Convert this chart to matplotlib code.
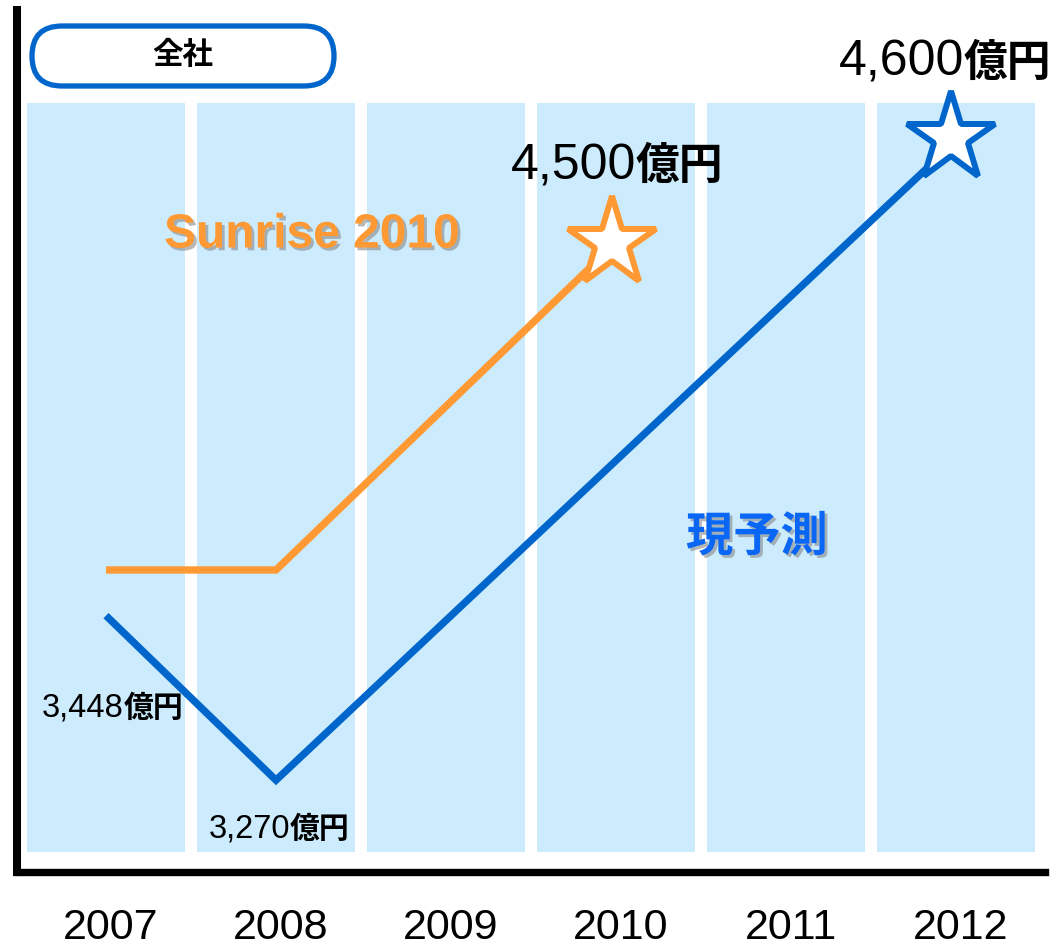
import matplotlib
matplotlib.use("Agg")
import matplotlib.pyplot as plt
import matplotlib.patheffects as pe
from matplotlib.patches import FancyBboxPatch
from matplotlib.transforms import IdentityTransform

# data (schematic index levels, 0-100 axis)
years = ["2007", "2008", "2009", "2010", "2011", "2012"]
col_bottom = 2.3
col_top = 89.2

forecast_x = [0, 1, 5]            # 現予測
forecast_level = [29.7, 10.6, 84.8]
sunrise_x = [0, 1, 3]             # Sunrise 2010
sunrise_level = [35.0, 35.0, 73.0]

# label values (億円)
forecast_labels = ["3,448", "3,270", "4,600"]
sunrise_target = "4,500"

W, H = 1057, 949
BLUE = "#0066CC"
ORANGE = "#FF9933"
LIGHT = "#CCEBFC"
NUM = "Liberation Sans"
JP = "Noto Sans CJK JP"

fig = plt.figure(figsize=(W / 100, H / 100), dpi=100)
ax = fig.add_axes([17 / W, (H - 871.5) / H, (1045 - 17) / W, (871.5 - 10) / H])
ax.set_xlim(-89 / 170, (1045 - 106) / 170)
ax.set_ylim(0, 100)

# columns
ax.bar(range(len(years)), col_top - col_bottom, bottom=col_bottom,
       width=158 / 170, color=LIGHT, zorder=1)

# lines
ax.plot(sunrise_x, sunrise_level, color=ORANGE, lw=5.3,
        solid_capstyle="butt", solid_joinstyle="miter", zorder=3)
ax.plot(forecast_x, forecast_level, color=BLUE, lw=5.3,
        solid_capstyle="butt", solid_joinstyle="miter", zorder=3)
ax.plot(sunrise_x[-1] - 0.025, sunrise_level[-1], marker="*", ms=67,
        mfc="white", mec=ORANGE, mew=4.3, zorder=4)
ax.plot(forecast_x[-1] - 0.03, forecast_level[-1] + 0.3, marker="*", ms=67,
        mfc="white", mec=BLUE, mew=4.3, zorder=4)

# axes styling
for s in ["top", "right"]:
    ax.spines[s].set_visible(False)
ax.spines["left"].set_linewidth(5.8)
ax.spines["bottom"].set_linewidth(5.3)
ax.set_yticks([])
ax.set_xticks([])
ax.patch.set_alpha(0)

ident = IdentityTransform()


def pix_text(px, py, s, **kw):
    return fig.text(px, H - py, s, transform=ident, **kw)


# year labels
for i, y in enumerate(years):
    ax.text(i + 0.03, -6.6, y, fontsize=31, family=NUM, ha="center",
            va="center", clip_on=False)


def money(px, py, num, nsize, jsize):
    pix_text(px, py, num, fontsize=nsize, family=NUM, ha="right", va="center", zorder=6)
    pix_text(px, py, "億円", fontsize=jsize, family=JP, fontweight="bold",
             ha="left", va="center", zorder=6)


money(124, 708, forecast_labels[0], 23.5, 21.5)
money(290, 829, forecast_labels[1], 23.5, 21.5)
money(964, 63, forecast_labels[2], 36, 31.5)
money(636, 166, sunrise_target, 36, 31.5)

shadow = [pe.SimplePatchShadow(offset=(2, -2), shadow_rgbFace="#888888", alpha=0.6),
          pe.Normal()]
pix_text(164, 235, "Sunrise 2010", fontsize=34.5, family=NUM, fontweight="bold",
         color=ORANGE, ha="left", va="center", path_effects=shadow)
pix_text(686, 537, "現予測", fontsize=34, family=JP, fontweight="bold",
         color="#0A66F5", ha="left", va="center", path_effects=shadow)

# 全社 box
box = FancyBboxPatch((32, H - 86), 302, 60, boxstyle="round,pad=0,rounding_size=30",
                     transform=ident, facecolor="white", edgecolor=BLUE, lw=3.8)
fig.patches.append(box)
pix_text(183, 55, "全社", fontsize=22, family=JP, fontweight="bold",
         ha="center", va="center")

fig.savefig("out.png", dpi=100)
